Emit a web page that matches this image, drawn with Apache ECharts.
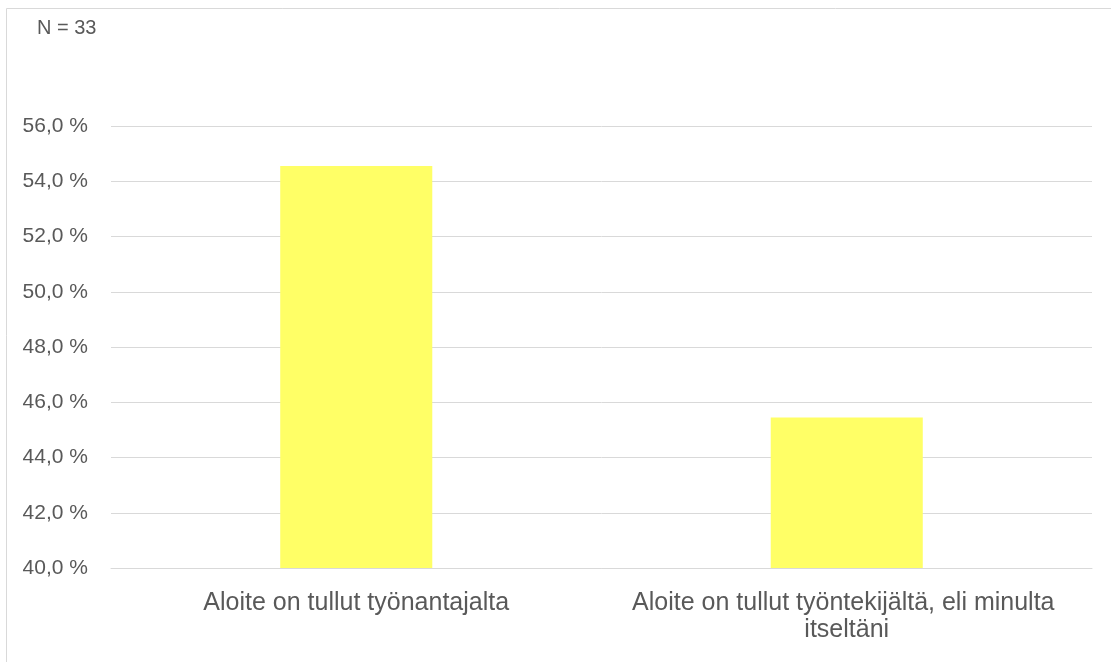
<!DOCTYPE html>
<html><head><meta charset="utf-8">
<script src="https://cdn.jsdelivr.net/npm/echarts@6/dist/echarts.min.js"></script>
<style>html,body{margin:0;padding:0;background:#fff}#c{width:1111px;height:662px}</style>
</head><body><div id="c"></div>
<script>
const categories = ['Aloite on tullut työnantajalta', 'Aloite on tullut työntekijältä, eli minulta itseltäni'];
const values = [54.55, 45.45];
const noteText = 'N = 33';
const yMin = 40, yMax = 56, yStep = 2;

const chart = echarts.init(document.getElementById('c'));
const font = 'Liberation Sans, DejaVu Sans, sans-serif';
chart.setOption({
  animation: false,
  textStyle: { fontFamily: font },
  graphic: [
    { type: 'rect', shape: { x: 6.5, y: 8.5, width: 1200, height: 800 }, style: { fill: 'none', stroke: '#d9d9d9', lineWidth: 1 } },
    { type: 'text', left: 37, top: 18, style: { text: noteText, fill: '#595959', font: '20px ' + font } }
  ],
  grid: { left: 111, right: 19, top: 126, bottom: 94 },
  xAxis: {
    type: 'category', data: categories,
    axisLine: { lineStyle: { color: '#d9d9d9' } }, axisTick: { show: false },
    axisLabel: { interval: 0, hideOverlap: false, color: '#595959', fontSize: 25, margin: 22, width: 488, overflow: 'break', lineHeight: 27 }
  },
  yAxis: {
    type: 'value', min: yMin, max: yMax, interval: yStep,
    axisLine: { show: false }, axisTick: { show: false },
    splitLine: { lineStyle: { color: '#d9d9d9' } },
    axisLabel: { color: '#595959', fontSize: 21, margin: 23, formatter: v => v.toFixed(1).replace('.', ',') + ' %' }
  },
  series: [{ type: 'bar', data: values, barWidth: '31%', itemStyle: { color: '#ffff66' } }]
});
</script></body></html>
